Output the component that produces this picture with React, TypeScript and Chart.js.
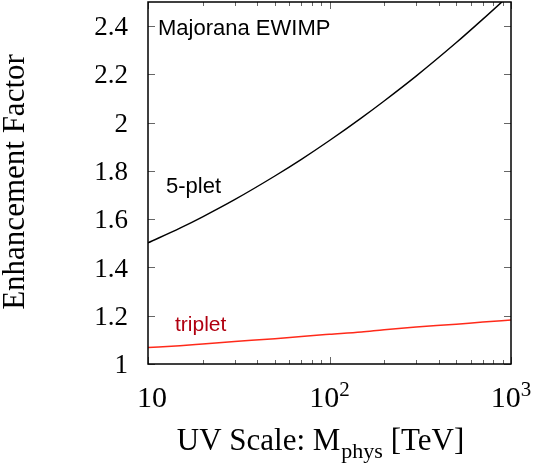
import { useEffect, useRef } from "react";
import { Chart, registerables } from "chart.js";

Chart.register(...registerables);

// UV scale M_phys [TeV]
const massTeV = [10, 15, 20, 30, 50, 70, 100, 150, 200, 300, 500, 700, 1000];
// Enhancement factor, 5-plet (black)
const fivePlet = [1.502, 1.563, 1.61, 1.681, 1.779, 1.848, 1.926, 2.02, 2.09, 2.193, 2.332, 2.429, 2.535];
// Enhancement factor, triplet (red)
const triplet = [1.068, 1.076, 1.083, 1.093, 1.105, 1.114, 1.123, 1.133, 1.142, 1.153, 1.165, 1.174, 1.182];

const yTickValues = [1, 1.2, 1.4, 1.6, 1.8, 2, 2.2, 2.4];
const yTickLabels = ["1", "1.2", "1.4", "1.6", "1.8", "2", "2.2", "2.4"];
const xMajorTicks = [10, 100, 1000];
const xTickBase = ["10", "10", "10"];
const xTickExp = ["", "2", "3"];
const xMinorTicks = [20, 30, 40, 50, 60, 70, 80, 90, 200, 300, 400, 500, 600, 700, 800, 900];

const SERIF = "'Liberation Serif', 'Times New Roman', serif";
const SANS = "'Liberation Sans', Arial, sans-serif";

const framePlugin = {
  id: "frameAndText",
  afterDraw(chart: any) {
    const ctx: CanvasRenderingContext2D = chart.ctx;
    const ca = chart.chartArea;
    const xs = chart.scales.x;
    const ys = chart.scales.y;
    ctx.save();

    // inward tick marks
    ctx.strokeStyle = "#666";
    ctx.lineWidth = 1;
    ctx.beginPath();
    for (const v of yTickValues) {
      const y = Math.round(ys.getPixelForValue(v)) + 0.5;
      ctx.moveTo(ca.left, y);
      ctx.lineTo(ca.left + 7, y);
      ctx.moveTo(ca.right, y);
      ctx.lineTo(ca.right - 7, y);
    }
    for (const v of xMajorTicks) {
      const x = Math.round(xs.getPixelForValue(v)) + 0.5;
      ctx.moveTo(x, ca.bottom);
      ctx.lineTo(x, ca.bottom - 7);
      ctx.moveTo(x, ca.top);
      ctx.lineTo(x, ca.top + 7);
    }
    for (const v of xMinorTicks) {
      const x = Math.round(xs.getPixelForValue(v)) + 0.5;
      ctx.moveTo(x, ca.bottom);
      ctx.lineTo(x, ca.bottom - 4);
      ctx.moveTo(x, ca.top);
      ctx.lineTo(x, ca.top + 4);
    }
    ctx.stroke();

    // frame
    ctx.strokeStyle = "#000";
    ctx.lineWidth = 1.5;
    ctx.strokeRect(ca.left, ca.top, ca.right - ca.left, ca.bottom - ca.top);

    // x tick labels with superscripts
    ctx.fillStyle = "#000";
    ctx.textBaseline = "alphabetic";
    ctx.textAlign = "left";
    xMajorTicks.forEach((v, i) => {
      const x = xs.getPixelForValue(v);
      ctx.font = `30px ${SERIF}`;
      const wb = ctx.measureText(xTickBase[i]).width;
      ctx.font = `21px ${SERIF}`;
      const we = xTickExp[i] ? ctx.measureText(xTickExp[i]).width : 0;
      const start = x - (wb + we) / 2 + (xTickExp[i] ? 0 : 4);
      ctx.font = `30px ${SERIF}`;
      ctx.fillText(xTickBase[i], start, 407);
      if (xTickExp[i]) {
        ctx.font = `21px ${SERIF}`;
        ctx.fillText(xTickExp[i], start + wb, 396);
      }
    });

    // x axis title
    const p1 = "UV Scale: M";
    const ps = "phys";
    const p2 = " [TeV]";
    ctx.font = `31px ${SERIF}`;
    const w1 = ctx.measureText(p1).width;
    const w2 = ctx.measureText(p2).width;
    ctx.font = `22px ${SERIF}`;
    const wsub = ctx.measureText(ps).width;
    let sx = 320 - (w1 + wsub + w2) / 2;
    ctx.font = `31px ${SERIF}`;
    ctx.fillText(p1, sx, 450);
    sx += w1;
    ctx.font = `22px ${SERIF}`;
    ctx.fillText(ps, sx + 1, 458);
    sx += wsub + 1;
    ctx.font = `31px ${SERIF}`;
    ctx.fillText(p2, sx, 450);

    // y axis title
    ctx.save();
    ctx.translate(24, 182);
    ctx.rotate(-Math.PI / 2);
    ctx.textAlign = "center";
    ctx.font = `31px ${SERIF}`;
    ctx.fillText("Enhancement Factor", 0, 0);
    ctx.restore();

    // annotations
    ctx.textAlign = "left";
    ctx.font = `22px ${SANS}`;
    ctx.fillStyle = "#000";
    ctx.fillText("Majorana EWIMP", ca.left + 10, 35);
    ctx.fillText("5-plet", 166, 193);
    ctx.font = `21px ${SANS}`;
    ctx.fillStyle = "#b00010";
    ctx.fillText("triplet", 175, 331);

    ctx.restore();
  },
};

export default function App() {
  const ref = useRef<HTMLCanvasElement | null>(null);
  useEffect(() => {
    if (!ref.current) return;
    const chart = new Chart(ref.current, {
      type: "line",
      data: {
        labels: massTeV,
        datasets: [
          {
            label: "5-plet",
            data: massTeV.map((m, i) => ({ x: m, y: fivePlet[i] })),
            borderColor: "#000",
            borderWidth: 1.4,
            pointRadius: 0,
            tension: 0.4,
            cubicInterpolationMode: "monotone",
          },
          {
            label: "triplet",
            data: massTeV.map((m, i) => ({ x: m, y: triplet[i] })),
            borderColor: "#ff2a1a",
            borderWidth: 1.5,
            pointRadius: 0,
            tension: 0.4,
            cubicInterpolationMode: "monotone",
          },
        ],
      },
      options: {
        animation: false,
        responsive: false,
        devicePixelRatio: 1,
        layout: { autoPadding: false, padding: { top: 2, right: 23, left: 0, bottom: 0 } },
        plugins: {
          legend: { display: false },
          title: { display: false },
          subtitle: { display: false },
          tooltip: { enabled: false },
        },
        events: [],
        scales: {
          x: {
            type: "logarithmic",
            min: 10,
            max: 1000,
            grid: { display: false, drawTicks: false },
            border: { display: false },
            ticks: { display: false },
            afterFit: (s: any) => {
              s.height = 103;
              s.paddingLeft = 0;
              s.paddingRight = 0;
              s.paddingTop = 0;
              s.paddingBottom = 0;
            },
          },
          y: {
            type: "linear",
            min: 1,
            max: 2.5,
            grid: { display: false, drawTicks: false },
            border: { display: false },
            afterBuildTicks: (s: any) => {
              s.ticks = yTickValues.map((v) => ({ value: v }));
            },
            ticks: {
              padding: 20,
              labelOffset: 2,
              color: "#000",
              font: { family: SERIF, size: 27 },
              callback: (_v: any, i: number) => yTickLabels[i],
            },
            afterFit: (s: any) => {
              s.width = 148;
              s.paddingLeft = 0;
              s.paddingRight = 0;
              s.paddingTop = 0;
              s.paddingBottom = 0;
            },
          },
        },
      },
      plugins: [framePlugin],
    } as any);
    return () => chart.destroy();
  }, []);
  return (
    <div style={{ position: "absolute", left: 0, top: 0, width: 534, height: 467, background: "#fff" }}>
      <canvas ref={ref} width={534} height={467} />
    </div>
  );
}
